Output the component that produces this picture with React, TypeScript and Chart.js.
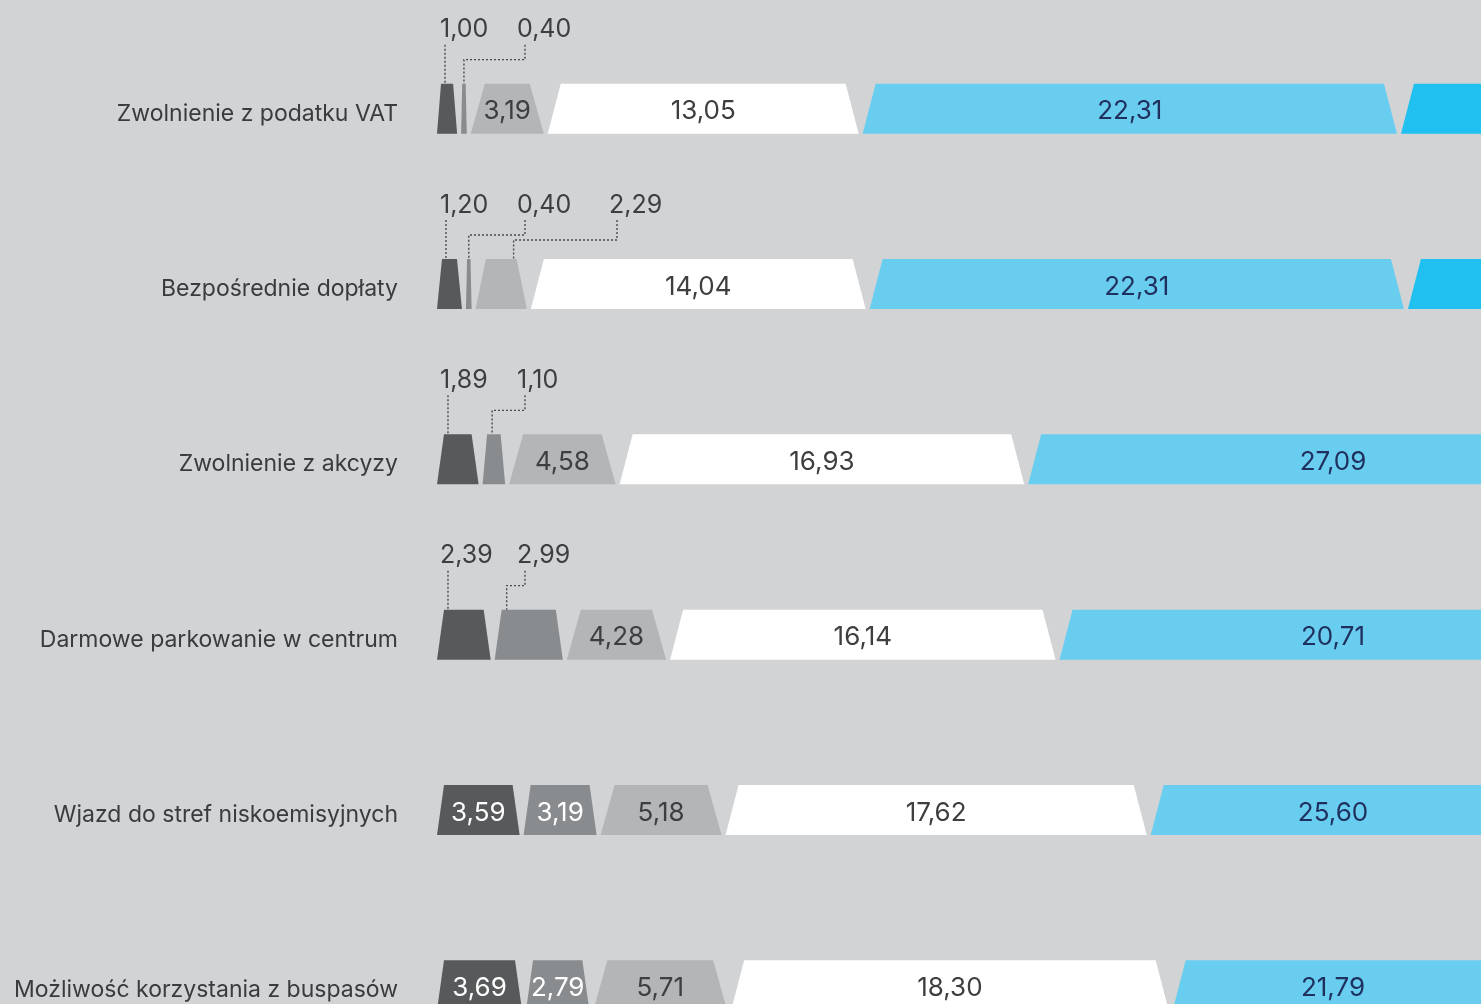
import React, { useEffect, useRef } from "react";
import { Chart, registerables } from "chart.js";

Chart.register(...registerables);

// ---------- data ----------
const categories = [
  "Zwolnienie z podatku VAT",
  "Bezpośrednie dopłaty",
  "Zwolnienie z akcyzy",
  "Darmowe parkowanie w centrum",
  "Wjazd do stref niskoemisyjnych",
  "Możliwość korzystania z buspasów",
];
const seriesNames = ["Seria 1", "Seria 2", "Seria 3", "Seria 4", "Seria 5", "Seria 6"];
const series1 = [1.0, 1.2, 1.89, 2.39, 3.59, 3.69];
const series2 = [0.4, 0.4, 1.1, 2.99, 3.19, 2.79];
const series3 = [3.19, 2.29, 4.58, 4.28, 5.18, 5.71];
const series4 = [13.05, 14.04, 16.93, 16.14, 17.62, 18.3];
const series5 = [22.31, 22.31, 27.09, 20.71, 25.6, 21.79];
const series6 = [30.0, 30.0, 28.0, 30.0, 27.0, 28.0]; // cut off in the picture (estimated)
const visibleMax = 43.35;

// ---------- styles ----------
const BG = "#d1d3d5";
const FONT = "Inter";
const COLORS = ["#58595b", "#898c8e", "#b3b5b6", "#ffffff", "#69cdf0", "#20c0f0"];
const TEXT_COLORS = ["#ffffff", "#ffffff", "#3d3e40", "#3d3e40", "#1f2f5e", "#ffffff"];
const MAX_SLANT = [7, 7, 14, 13, 13, 13];
const GAP = 4;
const CALLOUT_OFFSETS = [5, 82, 174];
const CALLOUT_THRESHOLD = 3;

const fmt = (v: number) => v.toFixed(2).replace(".", ",");

const trapezoidPlugin = {
  id: "trapezoids",
  beforeDatasetDraw(chart: any, args: any) {
    const { ctx, chartArea } = chart;
    const d = args.index;
    ctx.save();
    ctx.beginPath();
    ctx.rect(chartArea.left, 0, chartArea.right - chartArea.left, chart.height);
    ctx.clip();
    args.meta.data.forEach((el: any) => {
      const { x, y, base, height } = el.getProps(["x", "y", "base", "height"], true);
      const l = Math.min(x, base) + GAP / 2;
      const r = Math.max(x, base) - GAP / 2;
      const w = r - l;
      if (w <= 0) return;
      const s = Math.min(MAX_SLANT[d], w * 0.2);
      const top = y - height / 2;
      const bot = y + height / 2;
      ctx.beginPath();
      ctx.moveTo(l, bot);
      ctx.lineTo(l + s, top);
      ctx.lineTo(r - s, top);
      ctx.lineTo(r, bot);
      ctx.closePath();
      ctx.fillStyle = COLORS[d];
      ctx.fill();
    });
    ctx.restore();
    return false;
  },
  afterDatasetsDraw(chart: any) {
    const { ctx, chartArea } = chart;
    const datasets = chart.data.datasets;
    const n = chart.data.labels.length;
    ctx.save();
    for (let i = 0; i < n; i++) {
      const useCallouts = datasets[0].data[i] < CALLOUT_THRESHOLD;
      let k = 0;
      datasets.forEach((ds: any, d: number) => {
        const v = ds.data[i];
        const el = chart.getDatasetMeta(d).data[i];
        const { x, y, base, height } = el.getProps(["x", "y", "base", "height"], true);
        const l = Math.min(x, base) + GAP / 2;
        const r = Math.max(x, base) - GAP / 2;
        const w = r - l;
        const s = Math.min(MAX_SLANT[d], w * 0.2);
        const top = y - height / 2;
        if (useCallouts && d < 3 && v < CALLOUT_THRESHOLD) {
          const labelLeft = chartArea.left + CALLOUT_OFFSETS[k];
          const tl = l + s;
          const tr = r - s;
          const tc = (tl + tr) / 2;
          ctx.font = `400 25px ${FONT}`;
          ctx.fillStyle = "#3d3e40";
          ctx.textAlign = "left";
          ctx.textBaseline = "middle";
          ctx.fillText(fmt(v), labelLeft, top - 54);
          ctx.strokeStyle = "#4a4b4d";
          ctx.lineWidth = 1.4;
          ctx.setLineDash([2, 2]);
          ctx.beginPath();
          if (k === 0) {
            const tx = Math.min(tl + 4, tc);
            ctx.moveTo(tx, top - 39);
            ctx.lineTo(tx, top);
          } else {
            const tx = k === 2 ? tr - 3 : Math.min(tl + 5, tc);
            const sx = labelLeft + 8;
            const ey = k === 1 ? top - 24 : top - 19;
            ctx.moveTo(sx, top - 39);
            ctx.lineTo(sx, ey);
            ctx.lineTo(tx, ey);
            ctx.lineTo(tx, top);
          }
          ctx.stroke();
          ctx.setLineDash([]);
          k++;
        } else {
          let cx = (l + r) / 2;
          if (r > chartArea.right && l < chartArea.right - 300) {
            cx = chartArea.right - 148;
          }
          ctx.font = `400 26px ${FONT}`;
          ctx.fillStyle = TEXT_COLORS[d];
          ctx.textAlign = "center";
          ctx.textBaseline = "middle";
          ctx.fillText(fmt(v), cx, y + 3);
        }
      });
    }
    ctx.restore();
  },
};

export default function App() {
  const ref = useRef<HTMLCanvasElement>(null);
  useEffect(() => {
    document.body.style.margin = "0";
    document.body.style.background = BG;
    document.documentElement.style.overflow = "hidden";
    const allSeries = [series1, series2, series3, series4, series5, series6];
    const chart = new Chart(ref.current as HTMLCanvasElement, {
      type: "bar",
      data: {
        labels: categories,
        datasets: allSeries.map((data, d) => ({
          label: seriesNames[d],
          data,
          backgroundColor: COLORS[d],
          borderWidth: 0,
          barThickness: 50,
        })),
      },
      options: {
        indexAxis: "y",
        responsive: false,
        animation: false,
        layout: { padding: { top: 21, bottom: 14, left: 0, right: 0 } },
        plugins: { legend: { display: false }, tooltip: { enabled: false } },
        scales: {
          x: { stacked: true, display: false, min: 0, max: visibleMax },
          y: {
            stacked: true,
            grid: { display: false, drawTicks: true, tickLength: 37 },
            border: { display: false },
            ticks: {
              color: "#3a3b3d",
              font: { size: 23, family: FONT },
              padding: 0,
              labelOffset: 5,
              autoSkip: false,
            },
            afterFit: (scale: any) => {
              scale.width = 435;
            },
          },
        },
      } as any,
      plugins: [trapezoidPlugin],
    });
    return () => chart.destroy();
  }, []);
  return (
    <div style={{ width: 1481, height: 1004, overflow: "hidden", background: BG }}>
      <canvas ref={ref} width={1481} height={1087} style={{ display: "block" }} />
    </div>
  );
}
